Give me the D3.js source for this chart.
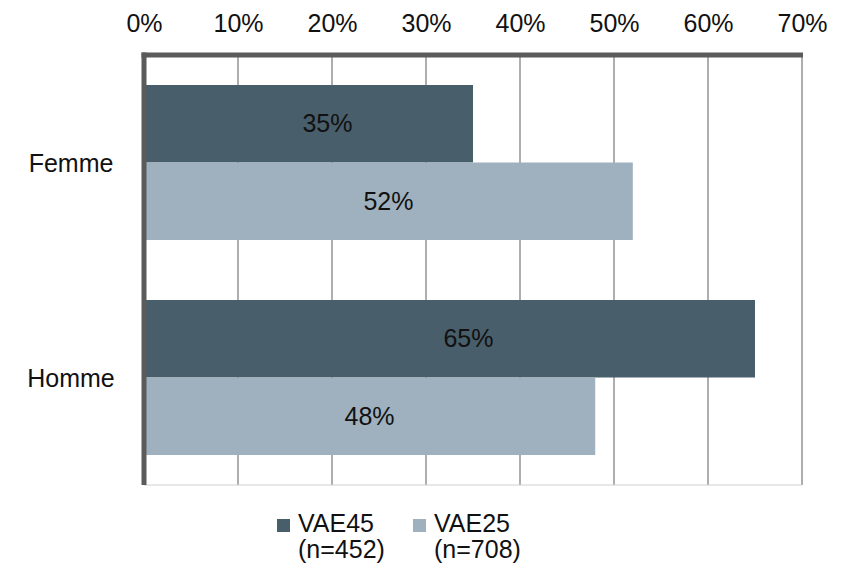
<!DOCTYPE html>
<html>
<head>
<meta charset="utf-8">
<script src="https://cdn.jsdelivr.net/npm/d3@7"></script>
<style>
  html, body { margin: 0; padding: 0; background: #fff; }
  svg text { font-family: "Liberation Sans", Arial, sans-serif; fill: #111; }
</style>
</head>
<body>
<svg id="chart" width="850" height="570"></svg>
<script>
// Share of respondents by sex, for each survey group
const categories = ["Femme", "Homme"];
const seriesNames = ["VAE45", "VAE25"];
const seriesCounts = ["(n=452)", "(n=708)"];
const vae45 = [0.35, 0.65];
const vae25 = [0.52, 0.48];
const tickValues = [0, 0.1, 0.2, 0.3, 0.4, 0.5, 0.6, 0.7];
const colors = ["#485e6a", "#9fb1be"];

const seriesValues = [vae45, vae25];
const rows = categories.map((c, i) => ({
  category: c,
  values: seriesNames.map((s, j) => ({ series: s, idx: j, value: seriesValues[j][i] }))
}));

const svg = d3.select("#chart");
const plotLeft = 144, plotRight = 802, plotTop = 55, plotBottom = 485;

const x = d3.scaleLinear().domain([0, 0.7]).range([plotLeft, plotRight]);
const y = d3.scaleBand().domain(categories).range([plotTop, plotBottom]).padding(0);
const ySeries = d3.scaleBand().domain(seriesNames)
  .range([0, y.bandwidth()]).paddingInner(0).paddingOuter(0.387);

const fmt = d3.format(".0%");

// vertical gridlines
svg.append("g")
  .selectAll("line")
  .data(tickValues.slice(1))
  .join("line")
  .attr("x1", d => x(d)).attr("x2", d => x(d))
  .attr("y1", plotTop).attr("y2", plotBottom)
  .attr("stroke", "#9a9a9a")
  .attr("stroke-width", 1.6);

// bottom edge of the plot
svg.append("line")
  .attr("x1", plotLeft).attr("x2", plotRight)
  .attr("y1", plotBottom).attr("y2", plotBottom)
  .attr("stroke", "#d0d0d0").attr("stroke-width", 1);

// bars
const groups = svg.append("g").selectAll("g")
  .data(rows)
  .join("g")
  .attr("transform", d => `translate(0,${y(d.category)})`);

groups.selectAll("rect")
  .data(d => d.values)
  .join("rect")
  .attr("x", x(0))
  .attr("y", d => ySeries(d.series))
  .attr("width", d => x(d.value) - x(0))
  .attr("height", ySeries.bandwidth())
  .attr("fill", d => colors[d.idx]);

// value labels inside the bars
const labelShift = [19, 0];
groups.selectAll("text")
  .data(d => d.values)
  .join("text")
  .attr("x", d => (x(0) + x(d.value)) / 2 + labelShift[d.idx])
  .attr("y", d => ySeries(d.series) + ySeries.bandwidth() / 2)
  .attr("dy", "0.35em")
  .attr("text-anchor", "middle")
  .style("font-size", "25px")
  .text(d => fmt(d.value));

// top axis
const xAxis = d3.axisTop(x).tickValues(tickValues).tickFormat(fmt).tickSize(0).tickPadding(0);
const gx = svg.append("g").attr("transform", `translate(0,${plotTop})`).call(xAxis);
gx.select(".domain").remove();
gx.selectAll("text")
  .attr("y", 32 - plotTop)
  .attr("dy", 0)
  .style("font-size", "25px")
  .style("font-family", "'Liberation Sans', Arial, sans-serif")
  .attr("fill", "#111");

svg.append("line")
  .attr("x1", plotLeft - 2.5).attr("x2", plotRight + 1)
  .attr("y1", plotTop).attr("y2", plotTop)
  .attr("stroke", "#5b5b5b").attr("stroke-width", 5);

// left axis
const yAxis = d3.axisLeft(y).tickSize(0).tickPadding(0);
const gy = svg.append("g").attr("transform", `translate(${plotLeft},0)`).call(yAxis);
gy.select(".domain").remove();
gy.selectAll("text")
  .attr("x", 71 - plotLeft)
  .attr("dy", "0.36em")
  .attr("text-anchor", "middle")
  .style("font-size", "25px")
  .style("font-family", "'Liberation Sans', Arial, sans-serif")
  .attr("fill", "#111");

svg.append("line")
  .attr("x1", plotLeft).attr("x2", plotLeft)
  .attr("y1", plotTop - 2.5).attr("y2", plotBottom)
  .attr("stroke", "#5b5b5b").attr("stroke-width", 5);

// legend
const legendX = [277, 413];
const legend = svg.append("g").selectAll("g")
  .data(seriesNames)
  .join("g")
  .attr("transform", (d, i) => `translate(${legendX[i]},0)`);

legend.append("rect")
  .attr("x", 0).attr("y", 519)
  .attr("width", 13).attr("height", 13)
  .attr("fill", (d, i) => colors[i]);

legend.append("text")
  .attr("x", 21).attr("y", 532)
  .style("font-size", "25px")
  .text(d => d);

legend.append("text")
  .attr("x", 21).attr("y", 558)
  .style("font-size", "25px")
  .text((d, i) => seriesCounts[i]);
</script>
</body>
</html>
